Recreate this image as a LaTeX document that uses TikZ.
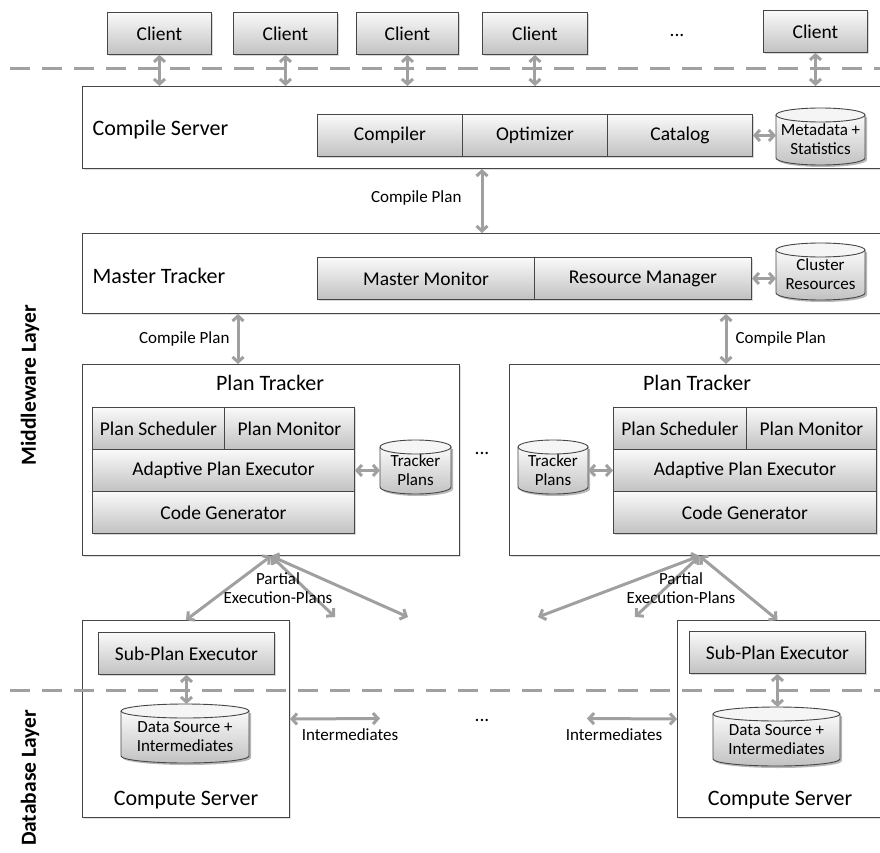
\documentclass[tikz,border=0pt]{standalone}
\usepackage{fontspec}
\setmainfont{Carlito}
\usetikzlibrary{arrows.meta,shadows}
\definecolor{arrowgray}{RGB}{160,160,160}
\definecolor{edgegray}{RGB}{70,70,70}
\tikzset{
  outerbox/.style={draw=edgegray, line width=1pt, fill=white, inner sep=0pt, anchor=north west,
    drop shadow={shadow xshift=1.2pt, shadow yshift=-1.2pt, opacity=.25}},
  modbox/.style={draw=edgegray, line width=0.9pt, top color=black!2, bottom color=black!24,
    inner sep=0pt, anchor=north west, font=\fontsize{19.5}{22}\selectfont,
    drop shadow={shadow xshift=2pt, shadow yshift=-2pt, opacity=.3}},
  link/.style={draw=arrowgray, line width=3pt,
    {Straight Barb[length=5pt,width=11pt]}-{Straight Barb[length=5pt,width=11pt]}},
  layerline/.style={draw=arrowgray, line width=3pt, dash pattern=on 20pt off 12pt},
  title/.style={font=\fontsize{22}{24}\selectfont},
  small/.style={font=\fontsize{17}{19}\selectfont},
  layer/.style={font=\fontsize{21.5}{24}\selectfont\bfseries, rotate=90},
}
% database drum: name, left x, top-ellipse y, right x, bottom-ellipse y, text
\newcommand\drum[6]{%
  \pgfmathsetmacro\drumcx{(#2+#4)/2}%
  \pgfmathsetmacro\drumrx{(#4-#2)/2}%
  \fill[black, opacity=.28] (#2+2,#3+2) -- (#2+2,#5+2)
    arc[start angle=180, end angle=0, x radius=\drumrx, y radius=7] -- (#4+2,#3+2) -- cycle;
  \path[top color=black!2, bottom color=black!24] (#2,#3) -- (#2,#5)
    arc[start angle=180, end angle=0, x radius=\drumrx, y radius=7] -- (#4,#3) -- cycle;
  \draw[edgegray, line width=.9pt, fill=black!4] (\drumcx,#3) ellipse[x radius=\drumrx, y radius=7];
  \draw[edgegray, line width=.9pt] (#2,#3) -- (#2,#5)
    arc[start angle=180, end angle=0, x radius=\drumrx, y radius=7] -- (#4,#3);
  \node[small, align=center, inner sep=0pt] (#1) at (\drumcx,{(#3+#5)/2+3}) {#6};
  \coordinate (#1-w) at (#2,{(#3+#5)/2+3});
  \coordinate (#1-e) at (#4,{(#3+#5)/2+3});
  \coordinate (#1-n) at (\drumcx,#3-7);
}
\begin{document}
\begin{tikzpicture}[x=1pt, y=-1pt]
\useasboundingbox (0,0) rectangle (880,853);
\clip (0,0) rectangle (880,853);

% clients
\node[modbox, minimum width=104pt, minimum height=42pt] (c1) at (107,12) {Client};
\node[modbox, minimum width=104pt, minimum height=42pt] (c2) at (233,12) {Client};
\node[modbox, minimum width=102pt, minimum height=42pt] (c3) at (356,12) {Client};
\node[modbox, minimum width=105pt, minimum height=42pt] (c4) at (482,12) {Client};
\node[font=\fontsize{19.5}{22}\selectfont] (cdots) at (677,35) {...};
\node[modbox, minimum width=104pt, minimum height=42pt] (c5) at (763,10) {Client};

% compile server
\node[outerbox, minimum width=810pt, minimum height=82pt] (csrv) at (82,86) {};
\node[title, anchor=west] (csrvt) at (89,130) {Compile Server};
\node[modbox, minimum width=145pt, minimum height=42pt] (compiler) at (317,114) {Compiler};
\node[modbox, minimum width=145pt, minimum height=42pt] (optimizer) at (462,114) {Optimizer};
\node[modbox, minimum width=145pt, minimum height=42pt] (catalog) at (607,114) {Catalog};
\drum{meta}{776}{115}{865}{158}{Metadata +\\Statistics}

% master tracker
\node[outerbox, minimum width=810pt, minimum height=80pt] (mtrk) at (82,233) {};
\node[title, anchor=west] (mtrkt) at (89,276) {Master Tracker};
\node[modbox, minimum width=217pt, minimum height=42pt] (mmon) at (317,257) {Master Monitor};
\node[modbox, minimum width=217pt, minimum height=42pt] (rman) at (534,257) {Resource Manager};
\drum{clres}{776}{250}{865}{293}{Cluster\\Resources}

% plan tracker (left)
\node[outerbox, minimum width=377pt, minimum height=191pt] (pt1) at (82,364) {};
\node[title] (pt1t) at (270,383) {Plan Tracker};
\node[modbox, minimum width=132pt, minimum height=42pt] (psch1) at (92,407) {Plan Scheduler};
\node[modbox, minimum width=130pt, minimum height=42pt] (pmon1) at (224,407) {Plan Monitor};
\node[modbox, minimum width=262pt, minimum height=42pt] (ape1) at (92,449) {Adaptive Plan Executor};
\node[modbox, minimum width=262pt, minimum height=42pt] (cg1) at (92,491) {Code Generator};
\drum{tp1}{380}{447}{451}{487}{Tracker\\Plans}
\node[font=\fontsize{19.5}{22}\selectfont] (ptdots) at (482,453) {...};

% plan tracker (right)
\node[outerbox, minimum width=380pt, minimum height=191pt] (pt2) at (509,364) {};
\node[title] (pt2t) at (697,383) {Plan Tracker};
\node[modbox, minimum width=133pt, minimum height=42pt] (psch2) at (613,407) {Plan Scheduler};
\node[modbox, minimum width=130pt, minimum height=42pt] (pmon2) at (746,407) {Plan Monitor};
\node[modbox, minimum width=263pt, minimum height=42pt] (ape2) at (613,449) {Adaptive Plan Executor};
\node[modbox, minimum width=263pt, minimum height=42pt] (cg2) at (613,491) {Code Generator};
\drum{tp2}{518}{447}{588}{487}{Tracker\\Plans}

% compute servers
\node[outerbox, minimum width=207pt, minimum height=197pt] (cs1) at (82,620) {};
\node[modbox, minimum width=176pt, minimum height=42pt] (spe1) at (98,632) {Sub-Plan Executor};
\node[title] (cs1t) at (186,800) {Compute Server};
\node[outerbox, minimum width=215pt, minimum height=197pt] (cs2) at (677,620) {};
\node[modbox, minimum width=176pt, minimum height=42pt] (spe2) at (689,631) {Sub-Plan Executor};
\node[title] (cs2t) at (780,800) {Compute Server};
\drum{ds1}{121}{711}{249}{756}{Data Source +\\Intermediates}
\drum{ds2}{713}{714}{840}{759}{Data Source +\\Intermediates}
\node[font=\fontsize{19.5}{22}\selectfont] (csdots) at (482,720) {...};

% layer separators
\coordinate (sepa1) at (10,69);  \coordinate (sepb1) at (880,69);
\coordinate (sepa2) at (10,690); \coordinate (sepb2) at (880,690);
\draw[layerline] (sepa1) -- (sepb1);
\draw[layerline] (sepa2) -- (sepb2);

% layer names
\node[layer] (mwl) at (30,385) {Middleware Layer};
\node[layer] (dbl) at (30,778) {Database Layer};

% client connections
\foreach \c in {c1,c2,c3,c4,c5}
  \draw[link] (\c.south) -- (\c.south |- csrv.north);

% compile plans
\coordinate (cpx) at (482,0);
\coordinate (cplx) at (238,0);
\coordinate (cprx) at (726,0);
\draw[link] (csrv.south -| cpx) -- (mtrk.north -| cpx);
\node[small, anchor=east] (cpl0) at (465,198) {Compile Plan};
\draw[link] (mtrk.south -| cplx) -- (pt1.north -| cplx);
\node[small, anchor=east] (cpl1) at (233,339) {Compile Plan};
\draw[link] (mtrk.south -| cprx) -- (pt2.north -| cprx);
\node[small, anchor=west] (cpl2) at (732,339) {Compile Plan};

% storage links
\draw[link] (catalog.east) -- (catalog.east -| meta-w);
\draw[link] (rman.east) -- (rman.east -| clres-w);
\draw[link] (ape1.east) -- (ape1.east -| tp1-w);
\draw[link] (tp2-e |- ape2.west) -- (ape2.west);
\draw[link] (spe1.south) -- (spe1.south |- ds1-n);
\draw[link] (spe2.south) -- (spe2.south |- ds2-n);

% partial execution plans
\coordinate (pe1) at (335,617);
\coordinate (pe2) at (408,617);
\coordinate (pe3) at (538,617);
\coordinate (pe4) at (635,617);
\draw[link] (pt1.south) -- (cs1.north);
\draw[link] (pt1.south) -- (pe1);
\draw[link] (pt1.south) -- (pe2);
\draw[link] (pt2.south) -- (pe3);
\draw[link] (pt2.south) -- (pe4);
\draw[link] (pt2.south) -- (cs2.north -| spe2.south);
\node[small, align=center, fill=none] (pex1) at (278,588) {Partial\\Execution-Plans};
\node[small, align=center] (pex2) at (681,588) {Partial\\Execution-Plans};

% intermediates exchange
\coordinate (im1) at (380,718.5);
\coordinate (im2) at (587,718.5);
\draw[link] (cs1.east) -- (im1);
\draw[link] (im2) -- (cs2.west);
\node[small] (iml) at (350,735) {Intermediates};
\node[small] (imr) at (614,735) {Intermediates};
\end{tikzpicture}
\end{document}
